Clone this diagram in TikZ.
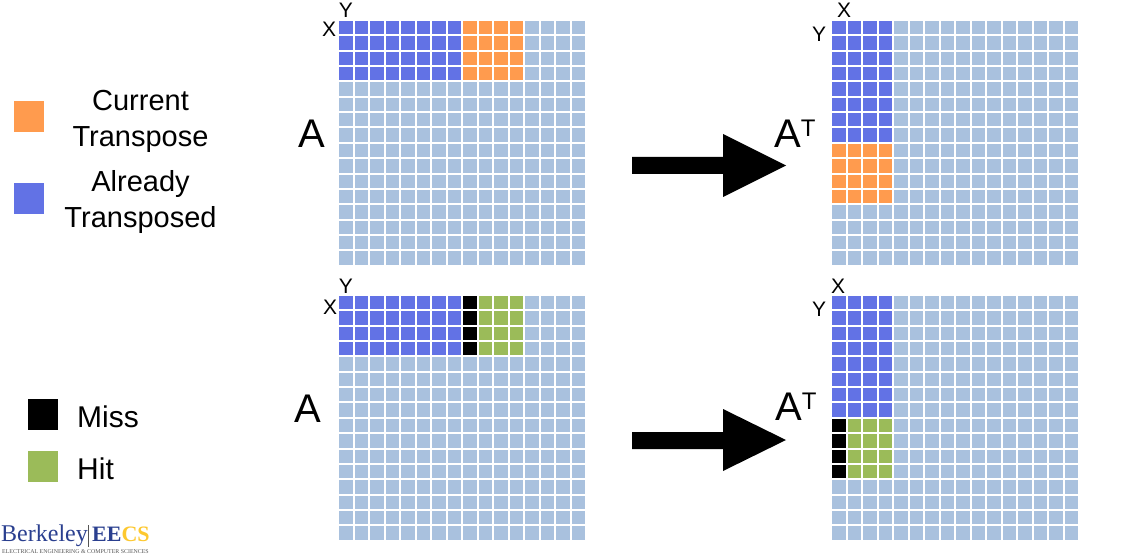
\documentclass[tikz,border=0pt]{standalone}
\usepackage{fontspec}
\setmainfont{Liberation Sans}
\newfontfamily\logofont{Liberation Serif}
\definecolor{cellbg}{HTML}{A9C1DE}
\definecolor{cellblue}{HTML}{6272E5}
\definecolor{cellorange}{HTML}{FF9B4E}
\definecolor{cellgreen}{HTML}{9BBB59}
\definecolor{logoblue}{HTML}{2A3F8F}
\definecolor{logogold}{HTML}{FDC82F}
\definecolor{logogray}{HTML}{555555}
\newcommand{\cellrange}[6]{% ox, oy, col from, col to, row from, row to, colour via \cellcol
  \foreach \cc in {#3,...,#4}{\foreach \rr in {#5,...,#6}{
    \fill[fill=\cellcol] ({round(#1+\cc*15.5)},{round(#2+\rr*15.35)}) rectangle ({round(#1+(\cc+1)*15.5)-1.7},{round(#2+(\rr+1)*15.35)-1.7});
  }}}
\newcommand{\cellcol}{cellbg}
\tikzset{
  legendtext/.style={font=\fontsize{29}{36}\selectfont,align=center,inner sep=0pt,text=black},
  keytext/.style={font=\fontsize{30}{36}\selectfont,inner sep=0pt,text=black},
  axislabel/.style={font=\fontsize{21}{21}\selectfont,inner sep=0pt,text=black},
  matlabel/.style={font=\fontsize{40}{40}\selectfont,inner sep=0pt,text=black},
  swatch/.style={minimum width=30,minimum height=31,inner sep=0pt,outer sep=0pt},
}
\begin{document}
\begin{tikzpicture}[x=1pt,y=-1pt]
\useasboundingbox (0,0) rectangle (1130,556);
% top left
\renewcommand{\cellcol}{cellbg}\cellrange{339}{21}{0}{15}{0}{15}
\renewcommand{\cellcol}{cellblue}\cellrange{339}{21}{0}{7}{0}{3}
\renewcommand{\cellcol}{cellorange}\cellrange{339}{21}{8}{11}{0}{3}
% top right
\renewcommand{\cellcol}{cellbg}\cellrange{832}{21}{0}{15}{0}{15}
\renewcommand{\cellcol}{cellblue}\cellrange{832}{21}{0}{3}{0}{7}
\renewcommand{\cellcol}{cellorange}\cellrange{832}{21}{0}{3}{8}{11}
% bottom left
\renewcommand{\cellcol}{cellbg}\cellrange{339}{296}{0}{15}{0}{15}
\renewcommand{\cellcol}{cellblue}\cellrange{339}{296}{0}{7}{0}{3}
\renewcommand{\cellcol}{black}\cellrange{339}{296}{8}{8}{0}{3}
\renewcommand{\cellcol}{cellgreen}\cellrange{339}{296}{9}{11}{0}{3}
% bottom right
\renewcommand{\cellcol}{cellbg}\cellrange{832}{296}{0}{15}{0}{15}
\renewcommand{\cellcol}{cellblue}\cellrange{832}{296}{0}{3}{0}{7}
\renewcommand{\cellcol}{black}\cellrange{832}{296}{0}{0}{8}{11}
\renewcommand{\cellcol}{cellgreen}\cellrange{832}{296}{1}{3}{8}{11}
% axis labels
\node[axislabel] (y1) at (346,10) {Y};
\node[axislabel] (x1) at (329,29) {X};
\node[axislabel] (x2) at (844,10) {X};
\node[axislabel] (y2) at (819,34) {Y};
\node[axislabel] (y3) at (346,286) {Y};
\node[axislabel] (x3) at (330,307) {X};
\node[axislabel] (x4) at (838,286) {X};
\node[axislabel] (y4) at (819,309) {Y};
% matrix labels
\node[matlabel] (a1) at (312,134) {A};
\node[matlabel,anchor=west] (t1) at (774,134) {A\raisebox{11pt}{\fontsize{24}{24}\selectfont T}};
\node[matlabel] (a2) at (308,409) {A};
\node[matlabel,anchor=west] (t2) at (775,407) {A\raisebox{11pt}{\fontsize{24}{24}\selectfont T}};
% arrows
\fill[black] (632,157) -- (723,157) -- (723,134) -- (786,165.5) -- (723,197) -- (723,174) -- (632,174) -- cycle;
\fill[black] (632,432) -- (723,432) -- (723,409) -- (786,440) -- (723,471) -- (723,449) -- (632,449) -- cycle;
% legend
\node[swatch,fill=cellorange] (s1) at (29,117) {};
\node[swatch,fill=cellblue] (s2) at (29,199) {};
\node[swatch,fill=black] (s3) at (42.5,414) {};
\node[swatch,fill=cellgreen] (s4) at (42.5,466) {};
\node[legendtext] (l1) at (140.5,121.5) {Current\\Transpose};
\node[legendtext] (l2) at (140.5,202.5) {Already\\Transposed};
\node[keytext,anchor=west] (l3) at (77,417) {Miss};
\node[keytext,anchor=west] (l4) at (77,469) {Hit};
% logo
\node[inner sep=0pt,anchor=base west,font=\logofont\fontsize{24}{24}\selectfont,text=logoblue] (lg1) at (1,541) {Berkeley};
\node[inner sep=0pt,anchor=base west,font=\logofont\bfseries\fontsize{22}{22}\selectfont] (lg2) at (92,541) {\textcolor{logoblue}{EE}\textcolor{logogold}{CS}};
\draw[logogray,line width=.6pt] (88,525) -- (88,547);
\node[inner sep=0pt,anchor=base west,font=\logofont\fontsize{5.9}{6}\selectfont,text=logogray] (lg3) at (2,553) {ELECTRICAL ENGINEERING \& COMPUTER SCIENCES};
\end{tikzpicture}
\end{document}
